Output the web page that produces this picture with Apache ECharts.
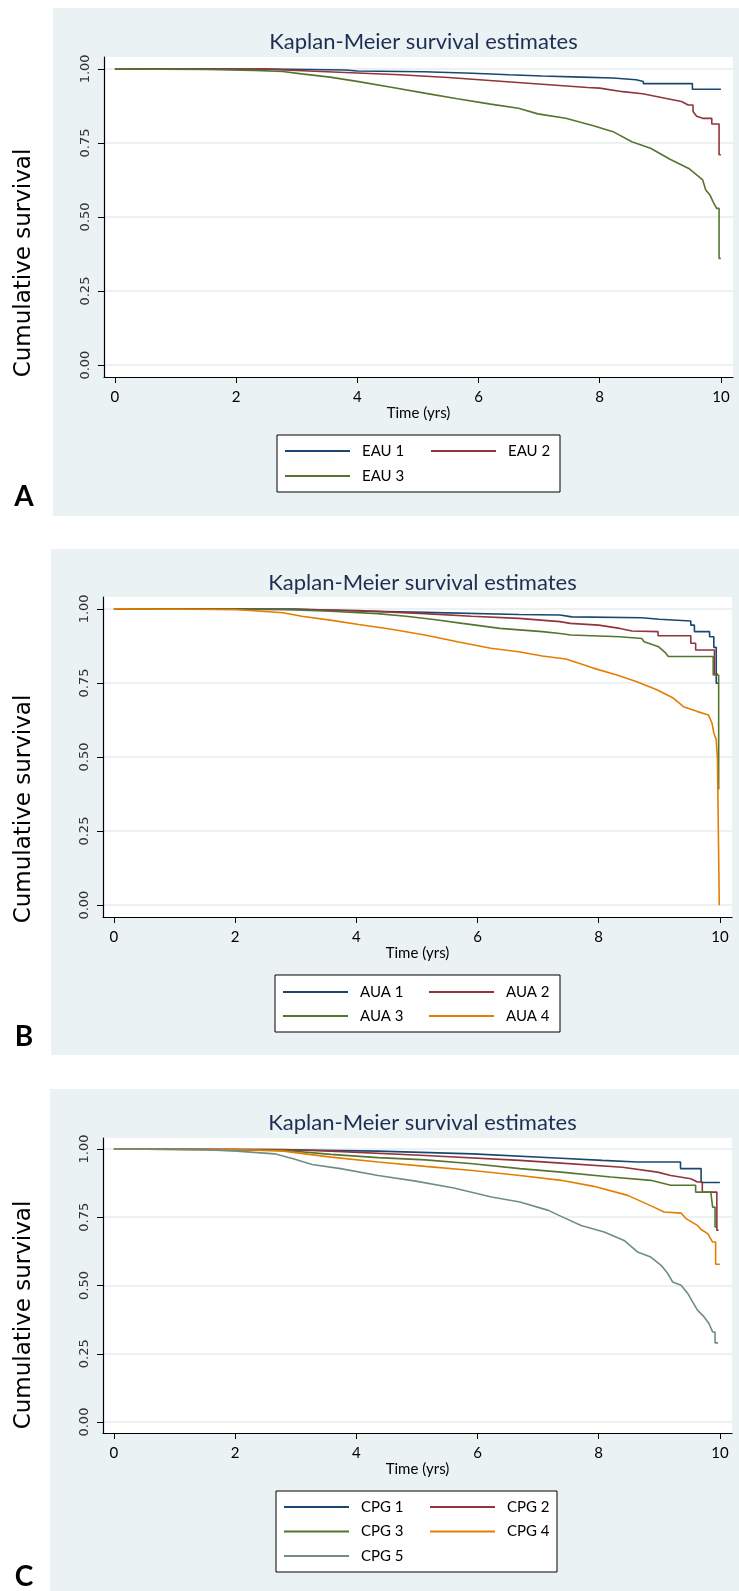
<!DOCTYPE html>
<html>
<head>
<meta charset="utf-8">
<title>Kaplan-Meier survival estimates</title>
<script src="https://cdn.jsdelivr.net/npm/echarts@6/dist/echarts.min.js"></script>
<style>
html, body { margin: 0; padding: 0; background: #fff; }
.panel-bg { position: absolute; background: #eaf2f3; }
#main { position: absolute; left: 0; top: 0; width: 739px; height: 1591px; }
</style>
</head>
<body>
<div class="panel-bg" style="left:53px;top:8px;width:686px;height:508px"></div>
<div class="panel-bg" style="left:51px;top:549px;width:688px;height:506px"></div>
<div class="panel-bg" style="left:50px;top:1089px;width:689px;height:502px"></div>
<div id="main"></div>
<script>
// 刻度
var timeTicks = [0, 2, 4, 6, 8, 10];
var survTicks = [0, 0.25, 0.5, 0.75, 1];
var titleText = 'Kaplan-Meier survival estimates';
var xName = 'Time (yrs)';
var yName = 'Cumulative survival';

// 分组名称
var namesA = ['EAU 1', 'EAU 2', 'EAU 3'];
var namesB = ['AUA 1', 'AUA 2', 'AUA 3', 'AUA 4'];
var namesC = ['CPG 1', 'CPG 2', 'CPG 3', 'CPG 4', 'CPG 5'];

// [time, survival]
var eau1 = [[0, 1], [2.5, 0.999], [3.2, 0.998], [3.8, 0.996], [4.0, 0.993], [5.1, 0.99], [5.9, 0.985], [6.5, 0.98], [7.05, 0.976], [7.7, 0.972], [8.22, 0.969], [8.22, 0.963], [8.6, 0.963], [8.6, 0.957], [8.72, 0.957], [8.72, 0.95], [9.53, 0.95], [9.53, 0.931], [10, 0.931]];
var eau2 = [[0, 1], [2.5, 0.999], [3.2, 0.993], [4.0, 0.986], [4.7, 0.98], [5.5, 0.971], [6.3, 0.959], [7.05, 0.948], [7.8, 0.937], [8.0, 0.935], [8.38, 0.923], [8.71, 0.916], [9.1, 0.9], [9.35, 0.89], [9.46, 0.878], [9.54, 0.878], [9.54, 0.856], [9.6, 0.84], [9.7, 0.833], [9.85, 0.833], [9.85, 0.814], [9.97, 0.814], [9.97, 0.71], [10, 0.71]];
var eau3 = [[0, 1], [1.5, 0.998], [2.3, 0.995], [2.77, 0.991], [3.08, 0.983], [3.55, 0.972], [4.02, 0.957], [4.56, 0.938], [5.11, 0.918], [5.65, 0.899], [6.2, 0.881], [6.66, 0.867], [6.98, 0.848], [7.44, 0.833], [7.91, 0.807], [8.22, 0.788], [8.53, 0.754], [8.84, 0.732], [9.16, 0.695], [9.47, 0.664], [9.7, 0.625], [9.75, 0.591], [9.82, 0.574], [9.87, 0.552], [9.93, 0.529], [9.97, 0.529], [9.97, 0.36], [10, 0.36]];

var aua1 = [[0, 1], [3.0, 0.999], [4.04, 0.993], [5.13, 0.988], [6.68, 0.981], [7.36, 0.979], [7.56, 0.973], [8.71, 0.97], [8.71, 0.965], [9.0, 0.965], [9.0, 0.959], [9.52, 0.959], [9.52, 0.945], [9.58, 0.945], [9.58, 0.923], [9.83, 0.923], [9.83, 0.906], [9.9, 0.906], [9.9, 0.87], [9.94, 0.87], [9.94, 0.749], [9.97, 0.749]];
var aua2 = [[0, 1], [3.0, 0.998], [4.04, 0.994], [5.13, 0.984], [5.9, 0.975], [6.68, 0.968], [7.36, 0.957], [7.53, 0.951], [8.0, 0.945], [8.35, 0.934], [8.55, 0.925], [8.98, 0.923], [8.98, 0.909], [9.52, 0.909], [9.52, 0.884], [9.6, 0.884], [9.6, 0.861], [9.91, 0.861], [9.91, 0.78], [9.97, 0.78]];
var aua3 = [[0, 1], [2.79, 0.998], [3.57, 0.992], [4.35, 0.984], [4.82, 0.975], [5.28, 0.964], [5.75, 0.951], [6.37, 0.934], [7.07, 0.923], [7.36, 0.917], [7.54, 0.912], [8.35, 0.906], [8.71, 0.9], [8.75, 0.889], [8.99, 0.872], [9.1, 0.852], [9.15, 0.839], [9.89, 0.839], [9.89, 0.777], [9.98, 0.777], [9.98, 0.39]];
var aua4 = [[0, 1], [2.0, 0.998], [2.79, 0.987], [3.1, 0.975], [3.57, 0.962], [4.04, 0.947], [4.58, 0.931], [5.13, 0.912], [5.67, 0.889], [6.22, 0.867], [6.68, 0.855], [7.07, 0.841], [7.46, 0.831], [7.91, 0.8], [8.3, 0.777], [8.63, 0.754], [8.96, 0.727], [9.23, 0.699], [9.4, 0.67], [9.62, 0.654], [9.81, 0.642], [9.87, 0.614], [9.9, 0.581], [9.94, 0.558], [9.96, 0.491], [9.99, 0.491], [9.99, 0]];

var cpg1 = [[0, 1], [2.8, 0.997], [4.36, 0.992], [5.92, 0.982], [7.38, 0.966], [8.06, 0.958], [8.64, 0.952], [9.35, 0.952], [9.35, 0.928], [9.69, 0.928], [9.69, 0.877], [10, 0.877]];
var cpg2 = [[0, 1], [2.8, 0.998], [3.58, 0.992], [5.14, 0.976], [6.7, 0.958], [7.38, 0.948], [8.39, 0.933], [8.97, 0.915], [9.19, 0.903], [9.52, 0.891], [9.63, 0.879], [9.71, 0.879], [9.71, 0.842], [9.95, 0.842], [9.95, 0.702], [9.98, 0.702]];
var cpg3 = [[0, 1], [2.8, 0.995], [3.58, 0.98], [4.36, 0.968], [5.14, 0.96], [5.92, 0.946], [6.7, 0.928], [7.38, 0.915], [8.2, 0.897], [8.86, 0.885], [9.19, 0.867], [9.6, 0.867], [9.6, 0.842], [9.85, 0.842], [9.88, 0.787], [9.92, 0.787], [9.92, 0.714], [9.96, 0.714]];
var cpg4 = [[0, 1], [2.0, 0.998], [2.8, 0.992], [3.58, 0.97], [4.36, 0.952], [5.14, 0.936], [5.92, 0.921], [6.7, 0.903], [7.38, 0.885], [7.92, 0.863], [8.48, 0.83], [8.91, 0.787], [9.08, 0.769], [9.36, 0.765], [9.44, 0.745], [9.63, 0.72], [9.69, 0.705], [9.8, 0.69], [9.88, 0.659], [9.93, 0.659], [9.93, 0.578], [10, 0.578]];
var cpg5 = [[0, 1], [1.5, 0.997], [2.03, 0.992], [2.65, 0.982], [2.96, 0.964], [3.27, 0.943], [3.74, 0.928], [4.36, 0.903], [4.98, 0.882], [5.61, 0.857], [6.23, 0.824], [6.7, 0.806], [7.17, 0.775], [7.38, 0.753], [7.71, 0.72], [8.09, 0.696], [8.42, 0.665], [8.64, 0.623], [8.86, 0.604], [9.03, 0.574], [9.14, 0.544], [9.22, 0.513], [9.36, 0.501], [9.47, 0.471], [9.55, 0.44], [9.63, 0.41], [9.74, 0.385], [9.82, 0.361], [9.88, 0.33], [9.92, 0.33], [9.92, 0.29], [9.97, 0.29]];

var KmFigure = function() {
    var t = {
        chart : null,
        colors : ['#1a476f', '#90353b', '#55752f', '#e37e00', '#6e8e84'],
        font : 'Lato, "Open Sans", sans-serif',
        // 每个面板的版式
        panels : [
            { letter : 'A', names : namesA, curves : [eau1, eau2, eau3], left : 104, top : 57, height : 320,
              titleY : 40, yTitleY : 263, letterY : 497, box : [277, 435, 283, 57], rowY : 451, rowGap : 25 },
            { letter : 'B', names : namesB, curves : [aua1, aua2, aua3, aua4], left : 103, top : 597, height : 320,
              titleY : 581, yTitleY : 809, letterY : 1037, box : [275, 975, 285, 57], rowY : 992, rowGap : 24 },
            { letter : 'C', names : namesC, curves : [cpg1, cpg2, cpg3, cpg4, cpg5], left : 103, top : 1138, height : 295,
              titleY : 1121, yTitleY : 1315, letterY : 1577, box : [276, 1491, 281, 81], rowY : 1507, rowGap : 24.5 }
        ],
        init : function(container) {
            t.chart = echarts.init(document.getElementById(container), null, { renderer : 'canvas' });
            t.render();
        },
        render : function() {
            var option = {
                animation : false,
                title : [], grid : [], xAxis : [], yAxis : [], legend : [], series : [],
                graphic : { elements : [] }
            };
            for (var i = 0; i < t.panels.length; i++) {
                t.buildPanel(option, t.panels[i], i);
            }
            t.chart.setOption(option);
        },
        buildPanel : function(option, p, i) {
            var plotW = 629;
            option.title.push({
                text : titleText,
                left : p.left + plotW / 2,
                top : p.titleY - 14,
                textAlign : 'center',
                textStyle : { fontFamily : t.font, fontSize : 22, fontWeight : 'normal', color : '#1e2d53' }
            });
            option.grid.push({
                left : p.left, top : p.top, width : plotW, height : p.height,
                show : true, backgroundColor : '#fff', borderWidth : 0,
                outerBoundsMode : 'none'
            });
            option.xAxis.push({
                gridIndex : i, type : 'value', min : -0.18, max : 10.2,
                name : xName, nameLocation : 'middle', nameGap : 29,
                nameTextStyle : { fontFamily : t.font, fontSize : 15, color : '#000' },
                axisLine : { show : true, onZero : false, lineStyle : { color : '#000', width : 1.2 } },
                axisTick : { show : true, length : 6, customValues : timeTicks, lineStyle : { color : '#000', width : 1 } },
                axisLabel : { customValues : timeTicks, margin : 13, fontFamily : t.font, fontSize : 15, color : '#000' },
                splitLine : { show : false }
            });
            option.yAxis.push({
                gridIndex : i, type : 'value', min : -0.04, max : 1.04,
                axisLine : { show : true, onZero : false, lineStyle : { color : '#000', width : 1.2 } },
                axisTick : { show : true, length : 6, customValues : survTicks, lineStyle : { color : '#000', width : 1 } },
                axisLabel : {
                    customValues : survTicks, rotate : 90, margin : 12,
                    fontFamily : '"DejaVu Sans", sans-serif', fontSize : 13, color : '#333',
                    formatter : function(v) { return Number(v).toFixed(2); }
                },
                splitLine : { show : true, lineStyle : { color : '#e6eef0', width : 1.5 } }
            });
            // 曲线
            for (var k = 0; k < p.curves.length; k++) {
                option.series.push({
                    name : p.names[k], type : 'line',
                    xAxisIndex : i, yAxisIndex : i,
                    data : p.curves[k],
                    symbol : 'none', showSymbol : false,
                    lineStyle : { color : t.colors[k], width : 1.6 },
                    itemStyle : { color : t.colors[k] }
                });
            }
            // 图例：两列
            var cols = [[], []];
            for (var j = 0; j < p.names.length; j++) {
                cols[j % 2].push(p.names[j]);
            }
            var colX = [p.box[0] + 8, p.box[0] + 154];
            for (var c = 0; c < 2; c++) {
                option.legend.push({
                    orient : 'vertical', left : colX[c], top : p.rowY - 8,
                    padding : 0, icon : 'rect', itemWidth : 65, itemHeight : 2, itemGap : p.rowGap - 16,
                    selectedMode : false, data : cols[c],
                    textStyle : { fontFamily : t.font, fontSize : 15, lineHeight : 16, color : '#000', padding : [0, 0, 0, 7] }
                });
            }
            var els = option.graphic.elements;
            els.push({
                type : 'rect', z : 1,
                shape : { x : p.box[0], y : p.box[1], width : p.box[2], height : p.box[3] },
                style : { fill : '#fff', stroke : '#000', lineWidth : 1 }
            });
            els.push({
                type : 'text', x : 24, y : p.yTitleY, rotation : Math.PI / 2,
                style : { text : yName, fontFamily : '"DejaVu Sans", sans-serif', fontSize : 23, fill : '#000',
                          textAlign : 'center', textVerticalAlign : 'middle' }
            });
            els.push({
                type : 'text', x : 24, y : p.letterY,
                style : { text : p.letter, fontFamily : t.font, fontSize : 28, fontWeight : 'bold', fill : '#000',
                          textAlign : 'center', textVerticalAlign : 'middle' }
            });
        }
    };
    return t;
}();

KmFigure.init('main');
</script>
</body>
</html>
